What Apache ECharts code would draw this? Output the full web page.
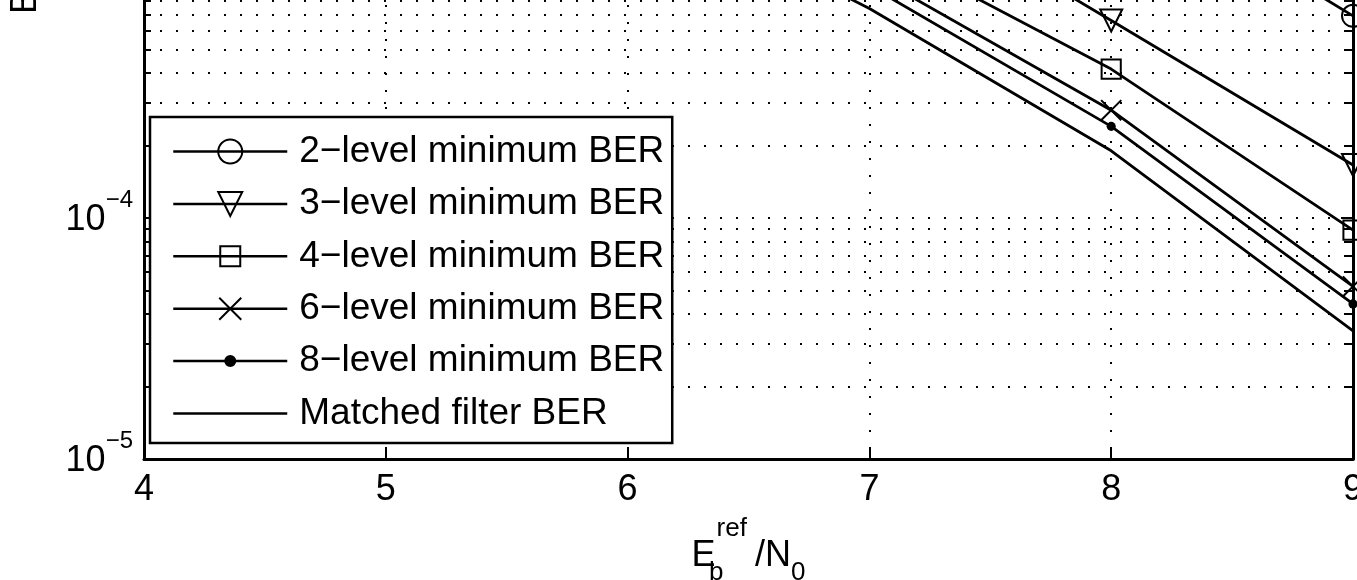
<!DOCTYPE html>
<html>
<head>
<meta charset="utf-8">
<script src="https://cdn.jsdelivr.net/npm/echarts@6/dist/echarts.min.js"></script>
<style>
html, body { margin: 0; padding: 0; background: #fff; }
#main { width: 1357px; height: 580px; }
</style>
</head>
<body>
<div id="main"></div>
<script>
// Eb/N0 values (dB) and BER
var xValues = [6, 7, 8, 9];
var ber2 = [1.8e-2, 8.0e-3, 2.8e-3, 6.9e-4];
var ber3 = [7.0e-3, 2.6e-3, 6.6e-4, 1.66e-4];
var ber4 = [4.5e-3, 1.4e-3, 4.15e-4, 8.9e-5];
var ber6 = [3.2e-3, 1.04e-3, 2.8e-4, 5.2e-5];
var ber8 = [2.8e-3, 9.2e-4, 2.4e-4, 4.4e-5];
var berMF = [2.4e-3, 7.4e-4, 1.9e-4, 3.4e-5];

var seriesNames = [
    '2\u2212level minimum BER',
    '3\u2212level minimum BER',
    '4\u2212level minimum BER',
    '6\u2212level minimum BER',
    '8\u2212level minimum BER',
    'Matched filter BER'
];

var FONT = '"Liberation Sans", Arial, Helvetica, sans-serif';

// marker shapes (padded paths so legend and plot sizes look like matlab)
var SQUARE = 'path://M0,0M24,24M2,2H22V22H2Z';
var TRIANGLE = 'path://M0,0L24,0L12,22Z';
var CROSS = 'path://M0,0M24,24M1,1L23,23M23,1L1,23';
var DOT = 'path://M0,0M24,24M7,12A5,5,0,1,0,17,12A5,5,0,1,0,7,12Z';

// minor log grid values 2..9 x 10^e
var minorValues = [];
for (var e = -5; e <= -2; e++) {
    for (var m = 2; m <= 9; m++) {
        minorValues.push(m * Math.pow(10, e));
    }
}
var tickLen = 7 * 5 / 1209; // 7px in x units

function pairs(ys) {
    return xValues.map(function (x, i) { return [x, ys[i]]; });
}

function lineSeries(name, ys, symbol, size, fill, border) {
    return {
        name: name,
        type: 'line',
        data: pairs(ys),
        symbol: symbol,
        symbolSize: size,
        lineStyle: { color: '#000', width: 2.8 },
        itemStyle: { color: fill, borderColor: '#000', borderWidth: border },
        emphasis: { disabled: true },
        z: 4
    };
}

var myChart = echarts.init(document.getElementById('main'));

var axisFont = { fontSize: 36, fontFamily: FONT, color: '#000' };

var option = {
    animation: false,
    backgroundColor: '#fff',
    grid: {
        left: 144,
        right: 4,
        top: -505,
        bottom: 121,
        containLabel: false,
        outerBoundsMode: 'none'
    },
    legend: {
        orient: 'vertical',
        left: 150,
        top: 117,
        z: 10,
        padding: [16, 8, 11, 22],
        itemWidth: 114,
        itemHeight: 30,
        itemGap: 15.4,
        selectedMode: false,
        backgroundColor: '#fff',
        borderColor: '#000',
        borderWidth: 2.5,
        borderRadius: 0,
        textStyle: { fontSize: 37, fontFamily: FONT, color: '#000', padding: [0, 0, 0, 7] },
        lineStyle: { width: 2.5, color: '#000' },
        itemStyle: { borderColor: '#000', borderWidth: 2 },
        data: [
            { name: seriesNames[0] },
            { name: seriesNames[1] },
            { name: seriesNames[2] },
            { name: seriesNames[3] },
            { name: seriesNames[4] },
            { name: seriesNames[5], icon: 'path://M0,0H114V2.5H0Z', itemStyle: { color: '#000', borderWidth: 0 } }
        ]
    },
    xAxis: {
        type: 'value',
        min: 4,
        max: 9,
        interval: 1,
        axisLine: { onZero: false, lineStyle: { color: '#000', width: 3 } },
        axisTick: { inside: true, length: 12, lineStyle: { color: '#000', width: 2 } },
        axisLabel: { fontSize: 36, fontFamily: FONT, color: '#000', margin: 13 },
        splitLine: { show: true, lineStyle: { color: '#000', width: 2, type: [2, 15] } },
        name: '{m|E}{b|b}{sp|ref}{m|/N}{sb|0}',
        nameLocation: 'middle',
        nameGap: 57,
        nameTextStyle: {
            rich: {
                m: { fontSize: 36, fontFamily: FONT, color: '#000', verticalAlign: 'middle' },
                b: { fontSize: 26, fontFamily: FONT, color: '#000', verticalAlign: 'middle', width: 1, padding: [34, 0, 0, 0] },
                sb: { fontSize: 26, fontFamily: FONT, color: '#000', verticalAlign: 'middle', padding: [34, 0, 0, 0] },
                sp: { fontSize: 26, fontFamily: FONT, color: '#000', verticalAlign: 'middle', padding: [0, 8, 54, 0] }
            }
        }
    },
    yAxis: [
        {
            type: 'log',
            logBase: 10,
            min: 1e-5,
            max: 1e-1,
            splitNumber: 4,
            axisLine: { onZero: false, lineStyle: { color: '#000', width: 3 } },
            axisTick: { inside: true, length: 12, lineStyle: { color: '#000', width: 2 } },
            axisLabel: {
                margin: 11,
                formatter: function (v) {
                    var p = Math.round(Math.log10(v));
                    return '{a|10}{s|' + (p < 0 ? '\u2212' : '') + Math.abs(p) + '}';
                },
                rich: {
                    a: { fontSize: 36, fontFamily: FONT, color: '#000', verticalAlign: 'middle', padding: [4, 0, 0, 0] },
                    s: { fontSize: 24, fontFamily: FONT, color: '#000', verticalAlign: 'middle', padding: [0, 0, 36, 0] }
                }
            },
            splitLine: { show: true, lineStyle: { color: '#000', width: 2, type: [2, 14] } },
            name: 'BER',
            nameLocation: 'middle',
            nameGap: 100,
            nameTextStyle: axisFont
        },
        {
            type: 'log',
            logBase: 10,
            min: 1e-5,
            max: 1e-1,
            splitNumber: 4,
            position: 'right',
            axisLine: { onZero: false, lineStyle: { color: '#000', width: 3 } },
            axisTick: { inside: true, length: 12, lineStyle: { color: '#000', width: 2 } },
            axisLabel: { show: false },
            splitLine: { show: false }
        }
    ],
    series: [
        {
            name: 'minor grid',
            type: 'line',
            data: [],
            z: 1,
            silent: true,
            markLine: {
                z: 1,
                silent: true,
                symbol: ['none', 'none'],
                label: { show: false },
                lineStyle: { color: '#000', width: 2, type: [2, 14] },
                data: minorValues.map(function (v) {
                    return [{ coord: [4, v] }, { coord: [9, v] }];
                })
            }
        },
        {
            name: 'minor ticks',
            type: 'line',
            data: [],
            z: 3,
            silent: true,
            markLine: {
                z: 3,
                silent: true,
                symbol: ['none', 'none'],
                label: { show: false },
                lineStyle: { color: '#000', width: 2, type: 'solid' },
                data: minorValues.map(function (v) {
                    return [{ coord: [4, v] }, { coord: [4 + tickLen, v] }];
                }).concat(minorValues.map(function (v) {
                    return [{ coord: [9 - tickLen, v] }, { coord: [9, v] }];
                }))
            }
        },
        lineSeries(seriesNames[0], ber2, 'circle', 22, 'transparent', 2),
        lineSeries(seriesNames[1], ber3, TRIANGLE, 22, 'transparent', 2),
        lineSeries(seriesNames[2], ber4, SQUARE, 23, 'transparent', 2),
        lineSeries(seriesNames[3], ber6, CROSS, 22, 'transparent', 2),
        lineSeries(seriesNames[4], ber8, DOT, 22, '#000', 0),
        lineSeries(seriesNames[5], berMF, 'none', 0, '#000', 0)
    ]
};

myChart.setOption(option);
</script>
</body>
</html>
